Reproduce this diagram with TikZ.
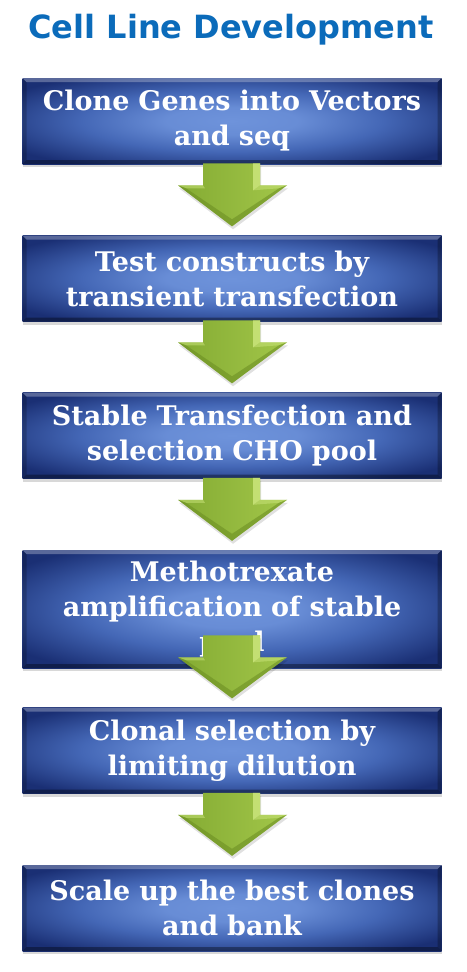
\documentclass[tikz,border=0pt]{standalone}
\usepackage{fontspec}
\newfontfamily\boxfont{DejaVu Serif}
\newfontfamily\titlefont{DejaVu Sans}
\usetikzlibrary{shadows}
\definecolor{titleblue}{HTML}{0B6BBA}
\definecolor{boxin}{HTML}{6E93DB}
\definecolor{boxmid}{HTML}{4467B6}
\definecolor{boxout}{HTML}{1A2F74}
\definecolor{arrA}{HTML}{84AB33}
\definecolor{arrB}{HTML}{A2C649}
\definecolor{arrHi}{HTML}{CBE57C}
\definecolor{arrDk}{HTML}{6A8C22}
\pgfdeclareradialshading{boxshade}{\pgfpoint{0bp}{0bp}}{color(0bp)=(boxin); color(8bp)=(boxin!85!boxmid); color(18bp)=(boxmid); color(31bp)=(boxout); color(50bp)=(boxout)}
\tikzset{
  stepbox/.style={rectangle, minimum width=419pt, inner sep=0pt, text width=415pt,
    align=center, text=white, font=\boxfont\bfseries\fontsize{27}{35}\selectfont,
    shading=boxshade,
    drop shadow={opacity=0.3, shadow xshift=0pt, shadow yshift=-3pt},
    path picture={
      \fill[white, opacity=0.28] (path picture bounding box.north west) -- (path picture bounding box.north east)
        -- ([xshift=-4pt,yshift=-4pt]path picture bounding box.north east) -- ([xshift=4pt,yshift=-4pt]path picture bounding box.north west) -- cycle;
      \fill[black, opacity=0.35] (path picture bounding box.south west) -- (path picture bounding box.south east)
        -- ([xshift=-4pt,yshift=4pt]path picture bounding box.south east) -- ([xshift=4pt,yshift=4pt]path picture bounding box.south west) -- cycle;
      \fill[black, opacity=0.2] (path picture bounding box.north west) -- (path picture bounding box.south west)
        -- ([xshift=4pt,yshift=4pt]path picture bounding box.south west) -- ([xshift=4pt,yshift=-4pt]path picture bounding box.north west) -- cycle;
      \fill[black, opacity=0.25] (path picture bounding box.north east) -- (path picture bounding box.south east)
        -- ([xshift=-4pt,yshift=4pt]path picture bounding box.south east) -- ([xshift=-4pt,yshift=-4pt]path picture bounding box.north east) -- cycle;
    }},
  blockarrow/.pic={
    \fill[black, opacity=0.12] (-28,3) -- (29,3) -- (29,25) -- (56,25) -- (1,66) -- (-53,25) -- (-28,25) -- cycle;
    \shade[left color=arrA, right color=arrB] (-29,0) -- (28,0) -- (28,22) -- (55,22) -- (0,63) -- (-54,22) -- (-29,22) -- cycle;
    \fill[arrHi, opacity=0.85] (21,0) -- (28,0) -- (28,22) -- (21,27) -- cycle;
    \fill[arrHi, opacity=0.5] (-54,22) -- (-29,22) -- (-27,25) -- (-46,25) -- cycle;
    \fill[arrHi, opacity=0.5] (28,22) -- (55,22) -- (47,25) -- (21,27) -- cycle;
    \fill[arrDk, opacity=0.55] (-54,22) -- (0,63) -- (55,22) -- (47,25) -- (0,56) -- (-46,25) -- cycle;
  }
}
\begin{document}
\begin{tikzpicture}[x=1pt,y=-1pt]
\useasboundingbox (0,0) rectangle (466,972);
\fill[white] (0,0) rectangle (466,972);
\node[font=\titlefont\bfseries\fontsize{32}{38}\selectfont, text=titleblue] (title) at (231,30) {Cell Line Development};
\node[stepbox, minimum height=86pt] (b1) at (232,121) {Clone Genes into Vectors\\and seq};
\node[stepbox, minimum height=86pt] (b2) at (232,278.5) {Test constructs by\\transient transfection};
\node[stepbox, minimum height=86pt] (b3) at (232,435.5) {Stable Transfection and\\selection CHO pool};
\node[stepbox, minimum height=118pt] (b4) at (232,609) {Methotrexate\\amplification of stable\\pool};
\node[stepbox, minimum height=86pt] (b5) at (232,750.5) {Clonal selection by\\limiting dilution};
\node[stepbox, minimum height=86pt] (b6) at (232,908) {Scale up the best clones\\and bank};
\pic at ([yshift=72pt]b2.north) {blockarrow};
\pic at ([yshift=72pt]b3.north) {blockarrow};
\pic at ([yshift=72pt]b4.north) {blockarrow};
\pic at ([yshift=72pt]b5.north) {blockarrow};
\pic at ([yshift=72pt]b6.north) {blockarrow};
\end{tikzpicture}
\end{document}
